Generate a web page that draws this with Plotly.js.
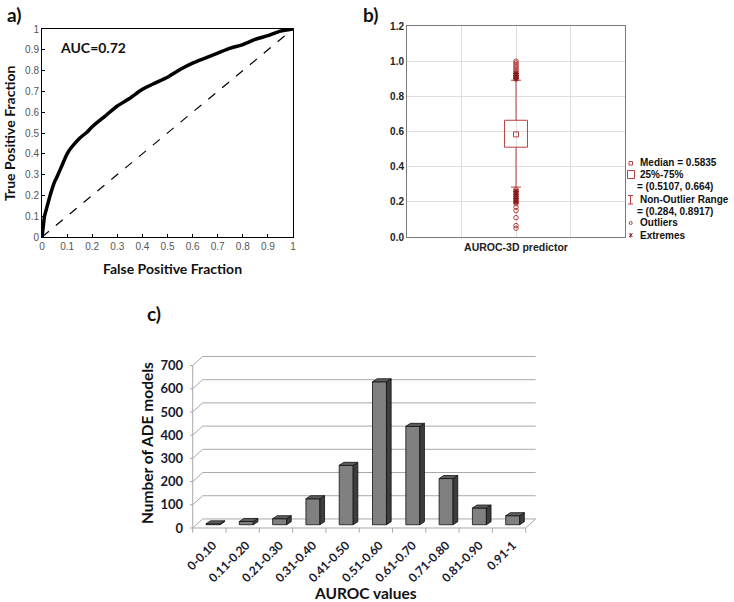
<!DOCTYPE html>
<html><head><meta charset="utf-8">
<script src="https://cdn.plot.ly/plotly-3.0.1.min.js"></script>
<style>html,body{margin:0;padding:0;background:#fff}</style>
</head><body><div id="chart" style="width:734px;height:602px"></div>
<script>
// ---------- Panel a: ROC curve ----------
const fpr = [0, 0.005, 0.01, 0.02, 0.03, 0.04, 0.05, 0.06, 0.08, 0.10, 0.12, 0.15, 0.18, 0.20, 0.25, 0.30, 0.35, 0.40, 0.45, 0.50, 0.55, 0.60, 0.65, 0.70, 0.75, 0.80, 0.85, 0.90, 0.95, 1.0];
const tpr = [0, 0.05, 0.10, 0.145, 0.19, 0.23, 0.265, 0.29, 0.345, 0.40, 0.435, 0.475, 0.505, 0.53, 0.58, 0.63, 0.667, 0.71, 0.74, 0.768, 0.805, 0.836, 0.86, 0.884, 0.908, 0.925, 0.95, 0.968, 0.99, 1.0];
const chanceLine = [0, 1];
const aucValue = 0.72;
const rocTicks = [0, 0.1, 0.2, 0.3, 0.4, 0.5, 0.6, 0.7, 0.8, 0.9, 1];
const rocTickText = ['0', '0.1', '0.2', '0.3', '0.4', '0.5', '0.6', '0.7', '0.8', '0.9', '1'];

// ---------- Panel b: box plot ----------
const boxLabel = 'AUROC-3D predictor';
const boxMedian = 0.5835;
const boxQ1 = 0.5107;
const boxQ3 = 0.664;
const boxLower = 0.284;
const boxUpper = 0.8917;
const upperOutliers = [1.0, 0.99, 0.98, 0.97, 0.96, 0.95, 0.94];
const upperExtremes = [0.93, 0.92, 0.91, 0.90];
const lowerOutliers = [0.27, 0.25, 0.23, 0.21, 0.19, 0.17, 0.15, 0.11, 0.065, 0.05];
const lowerExtremes = [0.26, 0.24, 0.22, 0.20];

// ---------- Panel c: 3D bar chart ----------
const aurocBins = ['0-0.10', '0.11-0.20', '0.21-0.30', '0.31-0.40', '0.41-0.50', '0.51-0.60', '0.61-0.70', '0.71-0.80', '0.81-0.90', '0.91-1'];
const modelCounts = [4, 14, 26, 112, 256, 616, 424, 199, 72, 39];
const countTicks = [0, 100, 200, 300, 400, 500, 600, 700];

// ---------- helpers ----------
const W = 734, H = 602;
const px = v => v / W;
const py = v => 1 - v / H;
const RED = '#b5403f';
const DARKRED = '#8a1c1c';
const calibri = 'Lato, "Open Sans", sans-serif';
const arial = '"Liberation Sans", Arial, sans-serif';

const traces = [];
const shapes = [];
const annotations = [];

// Panel a traces
traces.push({x: chanceLine, y: chanceLine, xaxis: 'x', yaxis: 'y', mode: 'lines',
  line: {color: '#000', width: 1.2, dash: 'dash'}, hoverinfo: 'skip'});
traces.push({x: fpr, y: tpr, xaxis: 'x', yaxis: 'y', mode: 'lines',
  line: {color: '#000', width: 3.5, shape: 'spline', smoothing: 0.6}});

// Panel b traces
const bw = 0.21, cw = 0.092;
traces.push({x: [-bw, bw, bw, -bw, -bw], y: [boxQ1, boxQ1, boxQ3, boxQ3, boxQ1], xaxis: 'x2', yaxis: 'y2',
  mode: 'lines', line: {color: RED, width: 1}});
traces.push({x: [0, 0, null, 0, 0, null, -cw, cw, null, -cw, cw],
  y: [boxQ3, boxUpper, null, boxQ1, boxLower, null, boxUpper, boxUpper, null, boxLower, boxLower],
  xaxis: 'x2', yaxis: 'y2', mode: 'lines', line: {color: RED, width: 1}});
traces.push({x: [0], y: [boxMedian], xaxis: 'x2', yaxis: 'y2', mode: 'markers',
  marker: {symbol: 'square-open', size: 5, color: RED, line: {width: 1}}});
const outl = upperOutliers.concat(lowerOutliers);
traces.push({x: outl.map(() => 0), y: outl, xaxis: 'x2', yaxis: 'y2', mode: 'markers',
  marker: {symbol: 'circle-open', size: 4.5, color: RED, line: {width: 1}}});
const extr = upperExtremes.concat(lowerExtremes);
traces.push({x: extr.map(() => 0), y: extr, xaxis: 'x2', yaxis: 'y2', mode: 'markers',
  marker: {symbol: 'asterisk-open', size: 5, color: DARKRED, line: {width: 1.3, color: DARKRED}}});

// Panel c: pseudo-3D frame from the tick values
const fx0 = -0.61, nSlots = aurocBins.length;
const fx1 = fx0 + nSlots;
const wallDx = 0.30, wallDy = 39;
const gridCol = '#a9a9a9';
countTicks.forEach(v => {
  if (v > 0) {
    shapes.push({type: 'path', xref: 'x3', yref: 'y3', layer: 'below',
      path: `M ${fx0},${v} L ${fx0 + wallDx},${v + wallDy} L ${fx1 + wallDx},${v + wallDy}`,
      line: {color: gridCol, width: 1}});
  }
  shapes.push({type: 'path', xref: 'x3', yref: 'y3', layer: 'below',
    path: `M ${fx0 - 0.08},${v} L ${fx0},${v}`, line: {color: gridCol, width: 1}});
});
shapes.push({type: 'path', xref: 'x3', yref: 'y3', layer: 'below',
  path: `M ${fx0},0 L ${fx1},0 L ${fx1 + wallDx},${wallDy} L ${fx0 + wallDx},${wallDy} Z`,
  line: {color: gridCol, width: 1}});
shapes.push({type: 'path', xref: 'x3', yref: 'y3', layer: 'below',
  path: `M ${fx0},0 L ${fx0},${countTicks[countTicks.length - 1]}`, line: {color: gridCol, width: 1}});
for (let k = 0; k <= nSlots; k++) {
  shapes.push({type: 'path', xref: 'x3', yref: 'y3', layer: 'below',
    path: `M ${fx0 + k},0 L ${fx0 + k},-20`, line: {color: gridCol, width: 1}});
}

const idx = aurocBins.map((_, i) => i);
const barBase = 14, halfW = 0.21, dX = 0.14, dY = 13;
traces.push({type: 'bar', x: idx, y: modelCounts, base: barBase, width: 2 * halfW, xaxis: 'x3', yaxis: 'y3',
  marker: {color: '#808080', line: {color: '#111', width: 0.8}}});
const topX = [], topY = [], sideX = [], sideY = [];
modelCounts.forEach((v, i) => {
  const t = barBase + v;
  topX.push(i - halfW, i + halfW, i + halfW + dX, i - halfW + dX, i - halfW, null);
  topY.push(t, t, t + dY, t + dY, t, null);
  sideX.push(i + halfW, i + halfW + dX, i + halfW + dX, i + halfW, i + halfW, null);
  sideY.push(barBase, barBase + dY, t + dY, t, barBase, null);
});
traces.push({x: sideX, y: sideY, xaxis: 'x3', yaxis: 'y3', mode: 'lines', fill: 'toself',
  fillcolor: '#3d3d3d', line: {color: '#111', width: 0.8}});
traces.push({x: topX, y: topY, xaxis: 'x3', yaxis: 'y3', mode: 'lines', fill: 'toself',
  fillcolor: '#5e5e5e', line: {color: '#111', width: 0.8}});

// ---------- annotations ----------
const ann = (x, y, text, size, opts) => Object.assign({xref: 'paper', yref: 'paper', x: px(x), y: py(y), text: text,
  showarrow: false, xanchor: 'center', yanchor: 'middle',
  font: {family: calibri, size: size, color: '#111', weight: 'bold'}}, opts || {});
annotations.push(ann(5, 14, '<b>a)</b>', 19, {xanchor: 'left'}));
annotations.push(ann(361, 14, '<b>b)</b>', 19, {xanchor: 'left'}));
annotations.push(ann(145, 313, '<b>c)</b>', 19, {xanchor: 'left'}));
annotations.push(ann(10, 133, '<b>True Positive Fraction</b>', 14, {textangle: -90}));
annotations.push(ann(172, 268, '<b>False Positive Fraction</b>', 14));
annotations.push({xref: 'x', yref: 'y', x: 0.065, y: 0.909, xanchor: 'left', yanchor: 'middle', showarrow: false,
  text: '<b>AUC=' + aucValue.toFixed(2) + '</b>', font: {family: calibri, size: 14, color: '#111'}});
annotations.push(ann(147, 443, '<b>Number of ADE models</b>', 15.5, {textangle: -90}));
annotations.push(ann(365, 593, '<b>AUROC values</b>', 15.5));

// Panel b legend
const lf = {family: arial, size: 10, color: '#111'};
const lg = (x, y, t) => annotations.push({xref: 'paper', yref: 'paper', x: px(x), y: py(y), text: '<b>' + t + '</b>',
  showarrow: false, xanchor: 'left', yanchor: 'middle', font: lf});
lg(638, 163, 'Median = ' + boxMedian);
lg(638, 174.5, '25%-75%');
lg(635, 186.5, '= (' + boxQ1 + ', ' + boxQ3 + ')');
lg(638, 199, 'Non-Outlier Range');
lg(635, 211, '= (' + boxLower + ', ' + boxUpper + ')');
lg(638, 223, 'Outliers');
lg(638, 235, 'Extremes');
const pshape = (path, col, w) => shapes.push({type: 'path', xref: 'paper', yref: 'paper', path: path,
  line: {color: col, width: w || 1}});
const P = (x, y) => `${px(x)},${py(y)}`;
shapes.push({type: 'rect', xref: 'paper', yref: 'paper', x0: px(629), x1: px(632.5), y0: py(161.5), y1: py(165), line: {color: RED, width: 1}});
shapes.push({type: 'rect', xref: 'paper', yref: 'paper', x0: px(627.5), x1: px(634.5), y0: py(170.5), y1: py(178.5), line: {color: RED, width: 1}});
pshape(`M ${P(628, 195.5)} L ${P(633, 195.5)} M ${P(630.5, 195.5)} L ${P(630.5, 204)} M ${P(628, 204)} L ${P(633, 204)}`, RED, 1);
shapes.push({type: 'circle', xref: 'paper', yref: 'paper', x0: px(629.2), x1: px(632.2), y0: py(221.5), y1: py(224.5), line: {color: RED, width: 1}});
pshape(`M ${P(629, 233.5)} L ${P(632.5, 237)} M ${P(632.5, 233.5)} L ${P(629, 237)} M ${P(630.75, 233)} L ${P(630.75, 237.5)}`, DARKRED, 1);

const layout = {
  width: W, height: H, margin: {l: 0, r: 0, t: 0, b: 0}, paper_bgcolor: '#fff', plot_bgcolor: 'rgba(0,0,0,0)',
  showlegend: false,
  xaxis: {domain: [px(42), px(293)], range: [0, 1], anchor: 'y', tickvals: rocTicks, ticktext: rocTickText,
    ticks: 'inside', ticklen: 3, tickcolor: '#000', showline: true, mirror: true, linecolor: '#000', linewidth: 1,
    showgrid: false, zeroline: false, tickfont: {family: arial, size: 10, color: '#555'}},
  yaxis: {domain: [py(237), py(29)], range: [0, 1], anchor: 'x', tickvals: rocTicks, ticktext: rocTickText,
    ticks: 'inside', ticklen: 3, tickcolor: '#000', showline: true, mirror: true, linecolor: '#000', linewidth: 1,
    showgrid: false, zeroline: false, tickfont: {family: arial, size: 10, color: '#555'}},
  xaxis2: {domain: [px(407), px(625)], range: [-2, 2], anchor: 'y2', tickvals: [-1, 0, 1], ticktext: ['', boxLabel, ''],
    showgrid: true, gridcolor: '#dedede', showline: true, mirror: true, linecolor: '#7a7a7a', zeroline: false,
    ticks: '', tickfont: {family: arial, size: 10.5, color: '#222', weight: 'bold'}},
  yaxis2: {domain: [py(237), py(26)], range: [0, 1.2], anchor: 'x2', tickvals: [0, 0.2, 0.4, 0.6, 0.8, 1.0, 1.2], tickformat: '.1f',
    showgrid: true, gridcolor: '#dedede', showline: true, mirror: true, linecolor: '#7a7a7a', zeroline: false,
    ticks: '', tickfont: {family: arial, size: 10, color: '#222', weight: 'bold'}},
  xaxis3: {domain: [px(184), px(545)], range: [-0.871, 9.97], anchor: 'y3', tickvals: idx, ticktext: aurocBins,
    tickangle: -45, showgrid: false, showline: false, zeroline: false, ticks: '',
    tickfont: {family: calibri, size: 12, color: '#1a1a2e', weight: 'bold'}},
  yaxis3: {domain: [py(535), py(340)], range: [-30.2, 810], anchor: 'x3', tickvals: countTicks,
    showgrid: false, showline: false, zeroline: false, ticks: '',
    tickfont: {family: calibri, size: 13, color: '#1a1a2e', weight: 'bold'}},
  shapes: shapes, annotations: annotations
};
Plotly.newPlot('chart', traces, layout, {displayModeBar: false, staticPlot: true});
</script></body></html>
